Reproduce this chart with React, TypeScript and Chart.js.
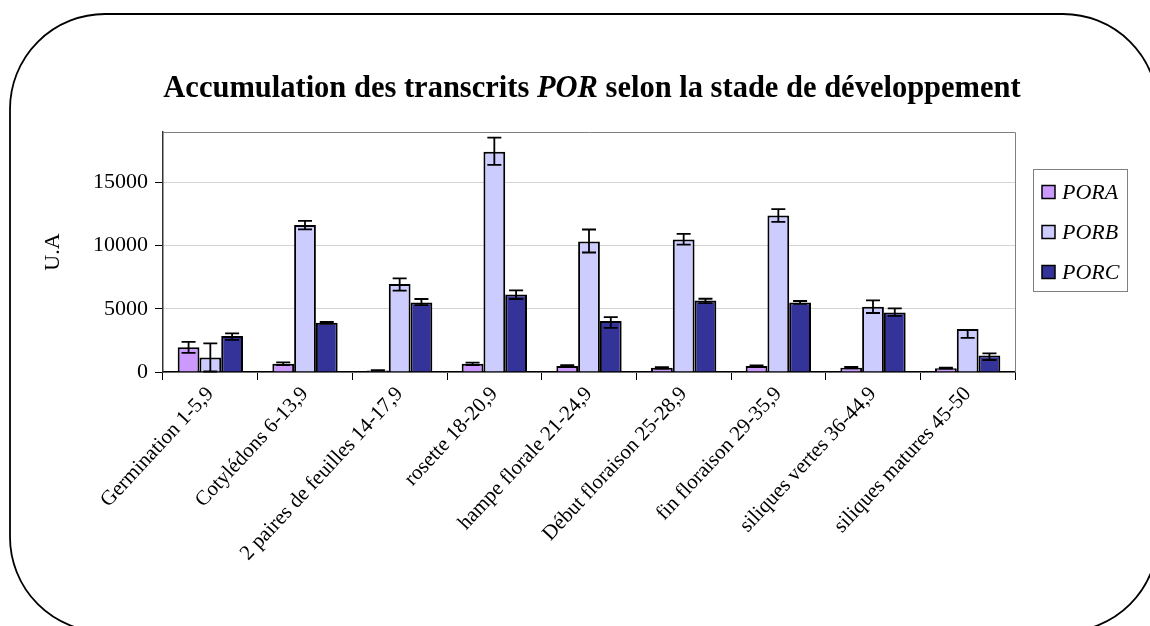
import React, { useEffect, useRef } from "react";
import { Chart, registerables } from "chart.js";

Chart.register(...registerables);

const titleBefore = "Accumulation des transcrits ";
const titleItalic = "POR";
const titleAfter = " selon la stade de développement";
const yAxisTitle = "U.A";

const categories = [
  "Germination 1-5,9",
  "Cotylédons 6-13,9",
  "2 paires de feuilles 14-17,9",
  "rosette 18-20,9",
  "hampe florale 21-24,9",
  "Début floraison 25-28,9",
  "fin floraison 29-35,9",
  "siliques vertes 36-44,9",
  "siliques matures 45-50",
];

const seriesNames = ["PORA", "PORB", "PORC"];
const seriesColors = ["#CC99FF", "#CCCCFF", "#333399"];

const poraValues = [1950, 650, 120, 650, 470, 330, 470, 340, 300];
const poraErrUp = [430, 110, 30, 100, 70, 60, 50, 60, 40];
const poraErrDown = [430, 110, 30, 100, 70, 60, 50, 60, 40];

const porbValues = [1150, 11630, 6960, 17430, 10330, 10490, 12390, 5170, 3400];
const porbErrUp = [1110, 340, 450, 1130, 950, 450, 500, 500, 0];
const porbErrDown = [1110, 340, 520, 1030, 870, 400, 500, 500, 700];

const porcValues = [2850, 3900, 5500, 6140, 4030, 5660, 5510, 4720, 1310];
const porcErrUp = [200, 70, 280, 320, 320, 140, 110, 310, 160];
const porcErrDown = [300, 70, 200, 360, 530, 200, 120, 270, 360];

const yTickValues = [0, 5000, 10000, 15000];
const yMax = 19000;

const FONT = "'Liberation Serif', 'Times New Roman', serif";

const errUp = [poraErrUp, porbErrUp, porcErrUp];
const errDown = [poraErrDown, porbErrDown, porcErrDown];

const decorPlugin = {
  id: "decor",
  beforeDraw(chart: any) {
    const ctx = chart.ctx;
    ctx.save();
    ctx.fillStyle = "#ffffff";
    ctx.fillRect(0, 0, chart.width, chart.height);
    const x0 = 10, y0 = 14, x1 = 1158, y1 = 632, r = 95;
    ctx.beginPath();
    ctx.moveTo(x0 + r, y0);
    ctx.lineTo(x1 - r, y0);
    ctx.arcTo(x1, y0, x1, y0 + r, r);
    ctx.lineTo(x1, y1 - r);
    ctx.arcTo(x1, y1, x1 - r, y1, r);
    ctx.lineTo(x0 + r, y1);
    ctx.arcTo(x0, y1, x0, y1 - r, r);
    ctx.lineTo(x0, y0 + r);
    ctx.arcTo(x0, y0, x0 + r, y0, r);
    ctx.closePath();
    ctx.lineWidth = 1.8;
    ctx.strokeStyle = "#000";
    ctx.stroke();
    ctx.restore();
  },
  afterDatasetsDraw(chart: any) {
    const ctx = chart.ctx;
    const yScale = chart.scales.y;
    ctx.save();
    ctx.strokeStyle = "#000";
    ctx.lineWidth = 1.8;
    chart.data.datasets.forEach((ds: any, di: number) => {
      const meta = chart.getDatasetMeta(di);
      meta.data.forEach((bar: any, i: number) => {
        const v = ds.data[i];
        const up = errUp[di][i];
        const dn = errDown[di][i];
        const x = bar.x;
        const yTop = yScale.getPixelForValue(v + up);
        const yBot = yScale.getPixelForValue(Math.max(0, v - dn));
        const hw = 7;
        ctx.beginPath();
        ctx.moveTo(x, yTop);
        ctx.lineTo(x, yBot);
        if (up > 0) {
          ctx.moveTo(x - hw, yTop);
          ctx.lineTo(x + hw, yTop);
        }
        if (dn > 0) {
          ctx.moveTo(x - hw, yBot);
          ctx.lineTo(x + hw, yBot);
        }
        ctx.stroke();
      });
    });
    ctx.restore();
  },
  afterDraw(chart: any) {
    const ctx = chart.ctx;
    const area = chart.chartArea;
    ctx.save();
    ctx.strokeStyle = "#808080";
    ctx.lineWidth = 1;
    ctx.beginPath();
    ctx.moveTo(area.left, area.top + 0.5);
    ctx.lineTo(area.right + 0.5, area.top + 0.5);
    ctx.lineTo(area.right + 0.5, area.bottom);
    ctx.stroke();

    const bold = `bold 30.5px ${FONT}`;
    const boldIt = `italic bold 30.5px ${FONT}`;
    ctx.fillStyle = "#000";
    ctx.textBaseline = "alphabetic";
    ctx.textAlign = "left";
    ctx.font = bold;
    const w1 = ctx.measureText(titleBefore).width;
    const w3 = ctx.measureText(titleAfter).width;
    ctx.font = boldIt;
    const w2 = ctx.measureText(titleItalic).width;
    const total = w1 + w2 + w3;
    let tx = 592 - total / 2;
    const ty = 97;
    ctx.font = bold;
    ctx.fillText(titleBefore, tx, ty);
    tx += w1;
    ctx.font = boldIt;
    ctx.fillText(titleItalic, tx, ty);
    tx += w2;
    ctx.font = bold;
    ctx.fillText(titleAfter, tx, ty);

    ctx.save();
    ctx.translate(53, (area.top + area.bottom) / 2);
    ctx.rotate(-Math.PI / 2);
    ctx.font = `22px ${FONT}`;
    ctx.textAlign = "center";
    ctx.textBaseline = "middle";
    ctx.fillText(yAxisTitle, 0, 0);
    ctx.restore();

    ctx.strokeStyle = "#808080";
    ctx.lineWidth = 1;
    ctx.strokeRect(1033.5, 169.5, 94, 122);
    seriesNames.forEach((name, i) => {
      const cy = 192 + i * 40;
      ctx.fillStyle = seriesColors[i];
      ctx.fillRect(1042, cy - 6.5, 13, 13);
      ctx.strokeStyle = "#000";
      ctx.lineWidth = 1.5;
      ctx.strokeRect(1042, cy - 6.5, 13, 13);
      ctx.fillStyle = "#000";
      ctx.font = `italic 22px ${FONT}`;
      ctx.textAlign = "left";
      ctx.textBaseline = "middle";
      ctx.fillText(name, 1062, cy + 1);
    });
    ctx.restore();
  },
};

export default function App() {
  const ref = useRef<HTMLCanvasElement | null>(null);
  useEffect(() => {
    document.body.style.margin = "0";
    const canvas = ref.current;
    if (!canvas) return;
    const datasetsValues = [poraValues, porbValues, porcValues];
    const chart = new Chart(canvas, {
      type: "bar",
      data: {
        labels: categories,
        datasets: seriesNames.map((name, i) => ({
          label: name,
          data: datasetsValues[i],
          backgroundColor: seriesColors[i],
          borderColor: "#000",
          borderWidth: 2,
          categoryPercentage: 0.69,
          barPercentage: 1.0,
        })),
      },
      options: {
        animation: false,
        responsive: false,
        devicePixelRatio: 1,
        layout: { padding: { left: 0, top: 132, right: 135, bottom: 0 } },
        plugins: {
          legend: { display: false },
          title: { display: false },
          tooltip: { enabled: false },
        },
        scales: {
          x: {
            grid: {
              offset: true,
              drawOnChartArea: false,
              tickLength: 8,
              tickColor: "#000",
              lineWidth: 1,
            },
            border: { color: "#000", width: 1.5 },
            ticks: {
              autoSkip: false,
              maxRotation: 47,
              minRotation: 47,
              padding: 2,
              color: "#000",
              font: { family: FONT, size: 21 },
            },
            afterFit(scale: any) {
              scale.height = 254;
            },
          },
          y: {
            min: 0,
            max: yMax,
            ticks: {
              stepSize: 5000,
              padding: 7,
              color: "#000",
              font: { family: FONT, size: 22 },
              callback: (v: any) => String(v),
            },
            afterBuildTicks(scale: any) {
              scale.ticks = yTickValues.map((v) => ({ value: v }));
            },
            grid: {
              color: "#d4d4d4",
              lineWidth: 1,
              tickLength: 8,
              tickColor: "#000",
            },
            border: { color: "#333", width: 1.5 },
            afterFit(scale: any) {
              scale.width = 163;
            },
          },
        },
      },
      plugins: [decorPlugin],
    });
    return () => chart.destroy();
  }, []);
  return (
    <div style={{ width: 1150, height: 626 }}>
      <canvas ref={ref} width={1150} height={626} style={{ display: "block" }} />
    </div>
  );
}
